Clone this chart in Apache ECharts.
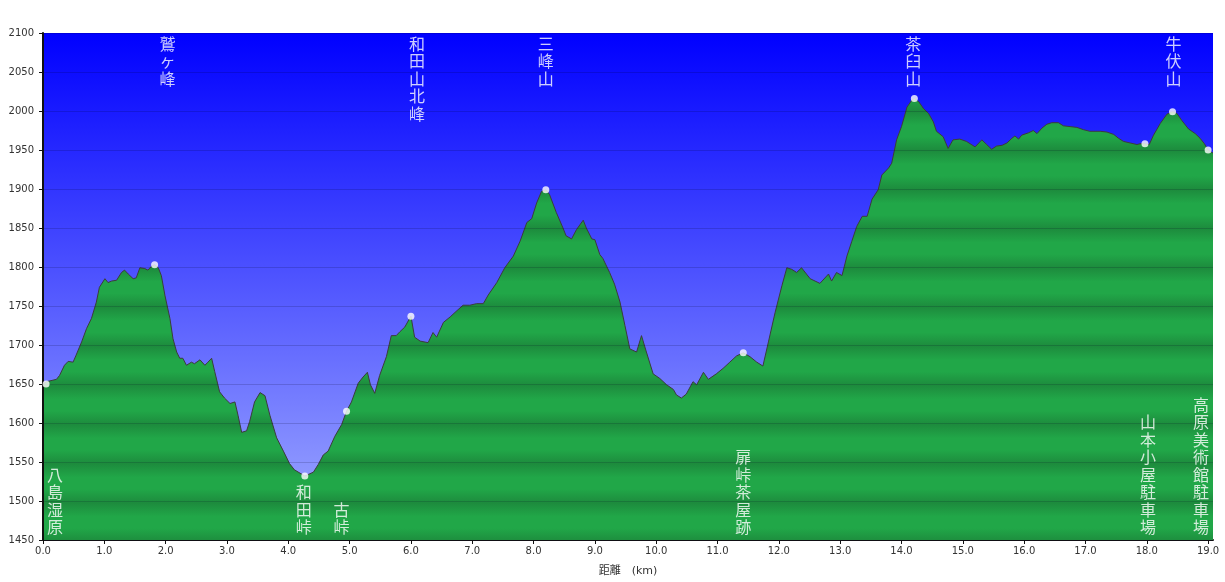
<!DOCTYPE html>
<html><head><meta charset="utf-8">
<script src="https://cdn.jsdelivr.net/npm/echarts@6/dist/echarts.min.js"></script>
<style>html,body{margin:0;padding:0;background:#fff}#c{width:1225px;height:582px}</style>
</head><body><div id="c"></div>
<script>
// ---- data ----
const distKm = [0.00,0.06,0.22,0.27,0.35,0.41,0.49,0.54,0.63,0.71,0.79,0.87,0.92,1.01,1.06,1.12,1.20,1.28,1.33,1.39,1.47,1.52,1.58,1.66,1.71,1.77,1.82,1.88,1.93,1.99,2.07,2.12,2.18,2.23,2.28,2.34,2.42,2.47,2.56,2.64,2.69,2.75,2.80,2.88,2.96,3.05,3.13,3.18,3.24,3.32,3.37,3.45,3.54,3.62,3.70,3.81,3.92,4.02,4.10,4.27,4.41,4.49,4.57,4.65,4.76,4.87,4.95,5.03,5.14,5.22,5.29,5.34,5.41,5.49,5.60,5.68,5.76,5.82,5.90,6.00,6.06,6.15,6.28,6.36,6.42,6.53,6.64,6.75,6.85,6.96,7.07,7.18,7.26,7.40,7.53,7.67,7.78,7.89,7.97,8.05,8.13,8.20,8.26,8.37,8.48,8.53,8.62,8.70,8.81,8.86,8.95,9.00,9.08,9.13,9.24,9.32,9.41,9.49,9.57,9.68,9.76,9.84,9.95,10.06,10.17,10.28,10.33,10.41,10.49,10.60,10.66,10.77,10.85,10.98,11.09,11.20,11.31,11.42,11.53,11.64,11.74,11.83,11.94,12.05,12.13,12.21,12.29,12.37,12.51,12.67,12.81,12.86,12.94,13.03,13.11,13.19,13.27,13.36,13.44,13.52,13.62,13.68,13.79,13.84,13.92,14.00,14.09,14.17,14.21,14.28,14.36,14.44,14.52,14.57,14.68,14.76,14.84,14.95,15.06,15.20,15.31,15.39,15.47,15.55,15.64,15.72,15.80,15.85,15.91,15.96,16.07,16.15,16.21,16.29,16.37,16.45,16.56,16.64,16.75,16.86,16.97,17.07,17.24,17.35,17.46,17.54,17.62,17.73,17.84,17.89,17.97,18.04,18.11,18.22,18.33,18.42,18.49,18.57,18.68,18.79,18.87,18.94,19.00,19.08];
const elevM = [1650,1653,1656,1661,1674,1679,1678,1687,1704,1721,1734,1755,1774,1785,1780,1782,1783,1793,1796,1791,1785,1786,1799,1798,1796,1801,1803,1799,1789,1763,1734,1708,1691,1683,1683,1674,1678,1676,1681,1674,1678,1683,1666,1640,1632,1625,1627,1610,1588,1590,1602,1627,1639,1635,1610,1581,1564,1548,1540,1532,1537,1547,1559,1564,1583,1598,1615,1627,1651,1659,1665,1649,1638,1661,1685,1712,1712,1717,1723,1737,1710,1705,1703,1716,1710,1729,1736,1744,1751,1751,1753,1753,1764,1780,1799,1814,1833,1857,1862,1882,1897,1899,1893,1870,1850,1840,1836,1848,1860,1850,1836,1835,1816,1811,1793,1778,1755,1725,1695,1691,1712,1691,1663,1657,1649,1643,1636,1632,1637,1653,1649,1665,1656,1663,1670,1678,1686,1690,1685,1678,1673,1704,1742,1776,1799,1797,1793,1799,1785,1779,1791,1782,1793,1789,1814,1833,1852,1865,1865,1887,1899,1918,1927,1933,1963,1980,2005,2014,2016,2012,2003,1997,1986,1974,1967,1952,1963,1964,1961,1954,1963,1957,1951,1955,1956,1959,1965,1968,1964,1969,1972,1975,1971,1978,1983,1985,1985,1981,1980,1979,1976,1974,1974,1973,1970,1965,1961,1959,1957,1958,1958,1957,1969,1984,1996,1999,1997,1988,1977,1971,1965,1958,1950,1946];

const wpNames = ['八島湿原','鷲ヶ峰','和田峠','古峠','和田山北峰','三峰山','扉峠茶屋跡','茶臼山','山本小屋駐車場','牛伏山','高原美術館駐車場'];
const wpKm    = [0.05, 1.82, 4.27, 4.95, 6.00, 8.20, 11.42, 14.21, 17.97, 18.42, 19.00];
const wpElev  = [1650, 1803, 1532, 1615, 1737, 1899, 1690, 2016, 1958, 1999, 1950];
const wpLabelTop = [false, true, false, false, true, true, false, true, false, true, false];

const xMin = 0, xMax = 19.08, xStep = 1;
const yMin = 1450, yMax = 2100, yStep = 50;
const xAxisTitle = '距離　(km)';

// ---- styles ----
const labelDx = [9, 13, -1, -5, 6, 0, 0, -1, 3, 1, -7];
const W = 1225, H = 582;
const G = {left: 43, right: 12, top: 33, bottom: 40};
const plotTop = G.top, plotBottom = H - G.bottom;

const nBands = (yMax - yMin) / yStep;
const bandStops = [];
for (let k = 0; k <= nBands; k++) {
  bandStops.push({offset: k / nBands, color: '#1d8b3d'});
  if (k < nBands) {
    bandStops.push({offset: (k + 0.35) / nBands, color: '#21a748'});
    bandStops.push({offset: (k + 0.65) / nBands, color: '#21a748'});
  }
}
const greenFill = new echarts.graphic.LinearGradient(0, plotTop, 0, plotBottom, bandStops, true);
const skyFill = new echarts.graphic.LinearGradient(0, 0, 0, 1, [
  {offset: 0, color: '#0000ff'},
  {offset: 1, color: '#a2adff'}
]);

const profile = distKm.map((d, i) => [d, elevM[i]]);
const dots = wpKm.map((d, i) => [d, wpElev[i]]);
const vertical = s => Array.from(s).join('\n');
const labelItems = (top) => wpNames.map((n, i) => ({n, i})).filter(o => wpLabelTop[o.i] === top).map(o => ({
  value: [wpKm[o.i], top ? yMax : yMin],
  name: o.n,
  label: {offset: [labelDx[o.i], 0]}
}));
const cjkLabel = (pos, dist) => ({
  show: true, position: pos, distance: dist,
  formatter: p => vertical(p.name),
  color: '#ffffff', fontSize: 16, lineHeight: 17.5,
  fontFamily: '"Noto Sans CJK JP", "Noto Sans CJK SC", sans-serif'
});

const chart = echarts.init(document.getElementById('c'), null, {renderer: 'canvas'});
chart.setOption({
  animation: false,
  backgroundColor: '#ffffff',
  grid: {left: G.left, right: G.right, top: G.top, bottom: G.bottom, containLabel: false,
         show: true, backgroundColor: skyFill, borderWidth: 0},
  xAxis: {
    type: 'value', min: xMin, max: xMax, interval: xStep,
    name: xAxisTitle, nameLocation: 'middle', nameGap: 26,
    nameTextStyle: {color: '#333', fontSize: 11, fontFamily: '"DejaVu Sans", "Noto Sans CJK JP", sans-serif'},
    axisLine: {show: true, lineStyle: {color: '#111', width: 2}},
    axisTick: {show: true, length: 4, lineStyle: {color: '#111', width: 1}},
    axisLabel: {color: '#333', fontSize: 10, fontFamily: '"DejaVu Sans", sans-serif', margin: 6,
                showMaxLabel: false, formatter: v => v.toFixed(1)},
    splitLine: {show: false}
  },
  yAxis: {
    type: 'value', min: yMin, max: yMax, interval: yStep, z: 3,
    axisLine: {show: true, lineStyle: {color: '#111', width: 2}},
    axisTick: {show: true, length: 4, lineStyle: {color: '#111', width: 1}},
    axisLabel: {color: '#333', fontSize: 10, fontFamily: '"DejaVu Sans", sans-serif', margin: 9,
                formatter: v => String(v)},
    splitLine: {show: true, lineStyle: {color: 'rgba(0,0,30,0.16)', width: 1}}
  },
  series: [
    {
      type: 'line', data: profile, symbol: 'none', smooth: false, z: 2,
      lineStyle: {color: '#3c3c3c', width: 1},
      areaStyle: {color: greenFill, opacity: 1}
    },
    {
      type: 'scatter', data: dots, symbol: 'circle', symbolSize: 7, z: 6,
      itemStyle: {color: '#ffffff'}, silent: true
    },
    {
      type: 'scatter', data: labelItems(true), symbolSize: 0, z: 7, clip: false,
      label: cjkLabel('bottom', 2)
    },
    {
      type: 'scatter', data: labelItems(false), symbolSize: 0, z: 7, clip: false,
      label: cjkLabel('top', 4)
    }
  ]
});
</script>
</body></html>
